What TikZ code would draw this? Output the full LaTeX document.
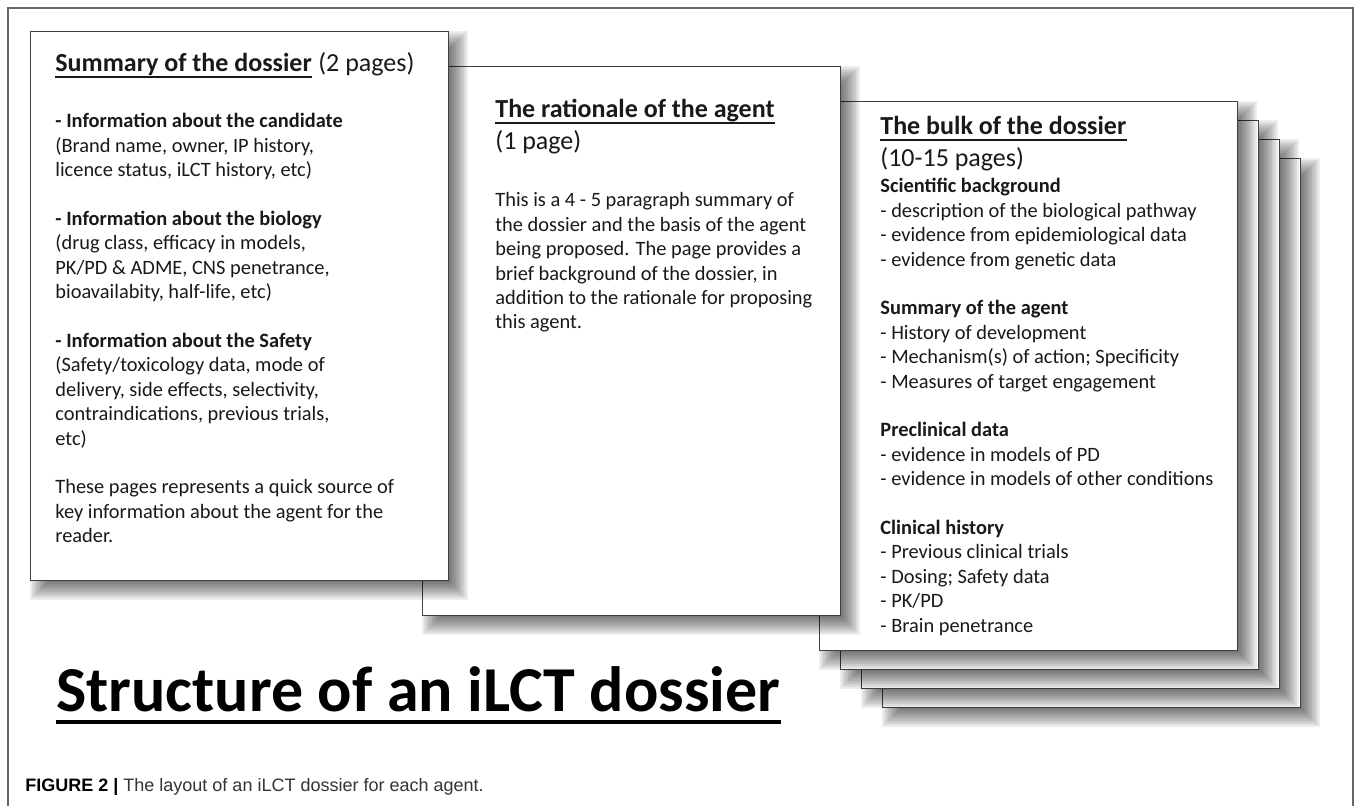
\documentclass[tikz,border=0pt]{standalone}
\usepackage{fontspec}
\setmainfont{Carlito}
\newfontfamily\capfont{Liberation Sans}

\tikzset{
  framel/.style={draw=black!60, line width=0.75pt},
  page/.style={draw=black!75, line width=0.6pt, fill=white, inner sep=0pt,
    minimum width=209pt, minimum height=274.5pt, anchor=north west},
  shade/.style={fill=black, opacity=.072},
  headtxt/.style={anchor=base west, inner sep=0pt, text=black!90, font=\fontsize{13}{16}\selectfont\bfseries},
  subtxt/.style={anchor=base west, inner sep=0pt, text=black!90, font=\fontsize{13}{16}\selectfont},
  bodytxt/.style={anchor=base west, inner sep=0pt, text=black!90, font=\fontsize{10.2}{12.2}\selectfont},
  headline/.style={line width=0.8pt, black!90}
}

% a page with its soft shadow: name, x, y
\newcommand{\paper}[3]{%
  \foreach \sa [evaluate=\sa as \sb using 10-\sa] in {0,...,9}
    \fill[shade] ([xshift=\sa pt, yshift=-\sa pt]#2,#3) rectangle ([xshift=\sb pt+209pt, yshift=-\sb pt-274.5pt]#2,#3);
  \node[page] (#1) at (#2,#3) {};
}

\begin{document}
\begin{tikzpicture}[x=0.5pt,y=-0.5pt]
\useasboundingbox (0,0) rectangle (1357,806);

% frame round the figure
\draw[framel] (8,806) -- (8,8) -- (1353,8) -- (1353,806);

% pages, back to front
\foreach \k in {3,2,1} {
  \paper{bulk\k}{819+21*\k}{101+19*\k}
}
\paper{bulk0}{819}{101}
\paper{ratpage}{422}{66}
\paper{sumpage}{30}{31}

% summary page
\node[headtxt] (sumhead) at (55,72) {Summary of the dossier};
\node[subtxt] (sumsub) at ([xshift=2.9pt]sumhead.base east) {(2 pages)};
\draw[headline] ([yshift=-2.6pt]sumhead.base west) -- ([yshift=-2.6pt]sumhead.base east);
\node[bodytxt] (sumbody) at (55,128) {\begin{tabular}[t]{@{}l@{}}
\textbf{- Information about the candidate}\\
(Brand name, owner, IP history,\\
licence status, iLCT history, etc)\\ \\
\textbf{- Information about the biology}\\
(drug class, efficacy in models,\\
PK/PD \& ADME, CNS penetrance,\\
bioavailabity, half-life, etc)\\ \\
\textbf{- Information about the Safety}\\
(Safety/toxicology data, mode of\\
delivery, side effects, selectivity,\\
contraindications, previous trials,\\
etc)\\ \\
These pages represents a quick source of\\
key information about the agent for the\\
reader.
\end{tabular}};

% rationale page
\node[headtxt] (rathead) at (495,118) {The rationale of the agent};
\draw[headline] ([yshift=-2.6pt]rathead.base west) -- ([yshift=-2.6pt]rathead.base east);
\node[subtxt] (ratsub) at (495,150) {(1 page)};
\node[bodytxt] (ratbody) at (495,207) {\begin{tabular}[t]{@{}l@{}}
This is a 4 - 5 paragraph summary of\\
the dossier and the basis of the agent\\
being proposed. The page provides a\\
brief background of the dossier, in\\
addition to the rationale for proposing\\
this agent.
\end{tabular}};

% bulk page
\node[headtxt] (bulkhead) at (880,135) {The bulk of the dossier};
\draw[headline] ([yshift=-2.6pt]bulkhead.base west) -- ([yshift=-2.6pt]bulkhead.base east);
\node[subtxt] (bulksub) at (880,167) {(10-15 pages)};
\node[bodytxt] (bulkbody) at (880,193) {\begin{tabular}[t]{@{}l@{}}
\textbf{Scientific background}\\
- description of the biological pathway\\
- evidence from epidemiological data\\
- evidence from genetic data\\ \\
\textbf{Summary of the agent}\\
- History of development\\
- Mechanism(s) of action; Specificity\\
- Measures of target engagement\\ \\
\textbf{Preclinical data}\\
- evidence in models of PD\\
- evidence in models of other conditions\\ \\
\textbf{Clinical history}\\
- Previous clinical trials\\
- Dosing; Safety data\\
- PK/PD\\
- Brain penetrance
\end{tabular}};

% title and caption
\node[anchor=base west, inner sep=0pt, font=\fontsize{32}{38}\selectfont\bfseries] (title) at (56,712) {Structure of an iLCT dossier};
\draw[line width=2pt] ([yshift=-5pt]title.base west) -- ([yshift=-5pt]title.base east);
\node[anchor=base west, inner sep=0pt, font=\capfont\fontsize{9}{11}\selectfont] (caption) at (25,792) {\textbf{FIGURE 2 |} \textcolor{black!80}{The layout of an iLCT dossier for each agent.}};

\end{tikzpicture}
\end{document}
